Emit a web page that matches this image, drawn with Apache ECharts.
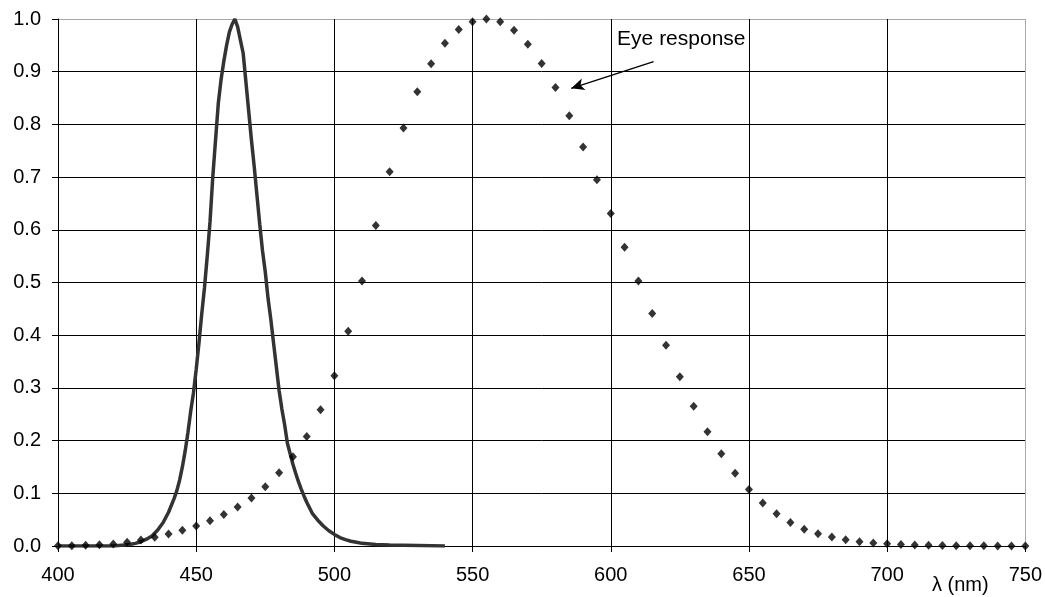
<!DOCTYPE html>
<html><head><meta charset="utf-8">
<script src="https://cdn.jsdelivr.net/npm/echarts@6/dist/echarts.min.js"></script>
<style>html,body{margin:0;padding:0;background:#fff}#c{width:1045px;height:597px}</style>
</head><body><div id="c"></div>
<script>
// Eye (photopic) response, sampled every 5 nm
const eyeWavelengths = [400,405,410,415,420,425,430,435,440,445,450,455,460,465,470,475,480,485,490,495,
  500,505,510,515,520,525,530,535,540,545,550,555,560,565,570,575,580,585,590,595,
  600,605,610,615,620,625,630,635,640,645,650,655,660,665,670,675,680,685,690,695,
  700,705,710,715,720,725,730,735,740,745,750];
const eyeResponse = [0.0004,0.0006,0.0012,0.0022,0.004,0.0073,0.0116,0.0168,0.023,0.0298,0.038,0.048,0.06,0.0739,0.091,0.1126,0.139,0.1693,0.208,0.2586,
  0.323,0.4073,0.503,0.6082,0.71,0.7932,0.862,0.9149,0.954,0.9803,0.995,1.0,0.995,0.9786,0.952,0.9154,0.87,0.8163,0.757,0.6949,
  0.631,0.5668,0.503,0.4412,0.381,0.321,0.265,0.217,0.175,0.1382,0.107,0.0816,0.061,0.0446,0.032,0.0232,0.017,0.0119,0.0082,0.0057,
  0.0041,0.0029,0.0021,0.0015,0.001,0.0007,0.0005,0.0004,0.0002,0.0002,0.0001];

// Blue LED spectrum (solid line)
const ledWavelengths = [400,410,420,422,424,426,428,430,432,434,436,438,440,442,443,444,445,446,447,448,449,
  450,451,452,453,454,455,456,457,458,459,460,461,462,463,464,465,466,467,468,469,
  470,471,472,473,474,475,476,477,478,479,480,481,482,483,484,485,486,487,488,489,
  490,492,494,496,498,500,502,504,506,508,510,515,520,530,540];
const ledSpectrum = [0,0,0,0.001,0.002,0.003,0.005,0.008,0.013,0.019,0.03,0.044,0.064,0.09,0.105,0.125,0.15,0.18,0.215,0.255,0.29,
  0.335,0.385,0.44,0.49,0.55,0.615,0.70,0.77,0.84,0.885,0.92,0.95,0.975,0.99,1.0,0.985,0.96,0.935,0.88,0.825,
  0.77,0.72,0.665,0.61,0.56,0.52,0.47,0.43,0.385,0.34,0.295,0.26,0.23,0.195,0.175,0.155,0.138,0.122,0.108,0.095,
  0.083,0.062,0.049,0.038,0.029,0.022,0.016,0.012,0.009,0.007,0.005,0.003,0.002,0.001,0];

const xTicks = [400,450,500,550,600,650,700,750];
const yTicks = [0,0.1,0.2,0.3,0.4,0.5,0.6,0.7,0.8,0.9,1.0];

const annotationText = 'Eye response';
const arrowFrom = [615.5, 0.919];
const arrowTo = [585.7, 0.8685];
const textAnchor = [602.3, 0.96];
const axisTitle = 'λ (nm)';

const FONT = 'Arial, "Liberation Sans", sans-serif';
const xColors = xTicks.map((t, i) => i === xTicks.length - 1 ? '#a8a8a8' : '#000');
const yColors = yTicks.map((t, i) => i === yTicks.length - 1 ? '#a8a8a8' : '#000');

const chart = echarts.init(document.getElementById('c'), null, {renderer: 'canvas'});
chart.setOption({
  animation: false,
  backgroundColor: '#fff',
  grid: {left: 58, right: 19, top: 19, bottom: 51, containLabel: false},
  xAxis: {
    type: 'value', min: xTicks[0], max: xTicks[xTicks.length - 1], interval: 50,
    axisLine: {show: true, onZero: false, lineStyle: {color: '#000', width: 1}},
    axisTick: {show: true, inside: false, length: 6, lineStyle: {color: '#000'}},
    axisLabel: {color: '#000', fontSize: 20, fontFamily: FONT, margin: 19},
    splitLine: {show: true, lineStyle: {color: xColors, width: 1}}
  },
  yAxis: {
    type: 'value', min: yTicks[0], max: yTicks[yTicks.length - 1], interval: 0.1,
    axisLine: {show: true, onZero: false, lineStyle: {color: '#000', width: 1}},
    axisTick: {show: true, inside: false, length: 6, lineStyle: {color: '#000'}},
    axisLabel: {color: '#000', fontSize: 20, fontFamily: FONT, margin: 17,
      formatter: v => Number(v).toFixed(1)},
    splitLine: {show: true, lineStyle: {color: yColors, width: 1}}
  },
  series: [
    {
      type: 'line', name: 'LED',
      data: ledWavelengths.map((w, i) => [w, ledSpectrum[i]]),
      showSymbol: false, symbol: 'none', smooth: false,
      lineStyle: {color: '#333', width: 3.5},
      z: 3
    },
    {
      type: 'scatter', name: 'Eye response',
      data: eyeWavelengths.map((w, i) => [w, eyeResponse[i]]),
      symbol: 'diamond', symbolSize: [8, 9],
      itemStyle: {color: '#000'},
      z: 4,
      markLine: {
        silent: true, animation: false,
        symbol: ['none', 'arrow'], symbolSize: [9, 13],
        label: {show: false},
        lineStyle: {color: '#000', width: 1.3, type: 'solid'},
        emphasis: {disabled: true},
        data: [[{coord: arrowFrom}, {coord: arrowTo}]]
      }
    }
  ]
});

const tp = chart.convertToPixel({gridIndex: 0}, textAnchor);
chart.setOption({
  graphic: [
    {type: 'text', left: tp[0], top: tp[1] - 11,
      style: {text: annotationText, fill: '#000', font: '21px ' + FONT}},
    {type: 'text', left: 932, top: 575,
      style: {text: axisTitle, fill: '#000', font: '20px ' + FONT}}
  ]
});
</script>
</body></html>
